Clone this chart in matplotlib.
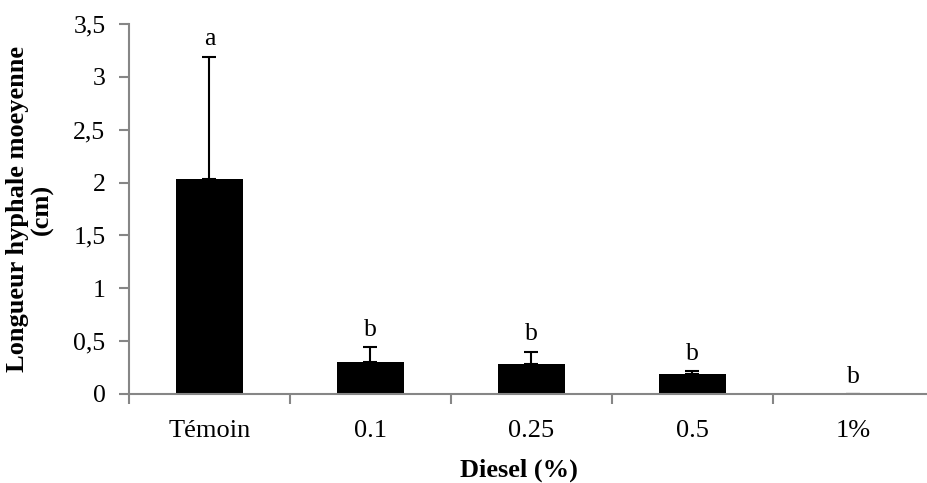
import matplotlib.pyplot as plt
import numpy as np

# donnees
categories = ['Témoin', '0.1', '0.25', '0.5', '1%']
moyennes = [2.03, 0.305, 0.287, 0.19, 0.0]
erreurs = [1.16, 0.14, 0.115, 0.028, 0.0]
lettres = ['a', 'b', 'b', 'b', 'b']

plt.rcParams['font.family'] = ['Liberation Serif', 'DejaVu Serif']
gris = '#868686'

fig = plt.figure(figsize=(9.28, 4.83), dpi=100)
ax = fig.add_axes([129/928, (483-394)/483, (934-129)/928, 370/483])

x = np.arange(len(categories))
ax.bar(x, moyennes, width=0.41, color='black', zorder=2)
ax.errorbar(x, moyennes, yerr=[np.zeros(len(erreurs)), erreurs], fmt='none',
            ecolor='black', elinewidth=1.5, capsize=4.7, capthick=1.5, zorder=3)

for i in range(len(categories)):
    h = moyennes[i] + erreurs[i]
    ax.text(x[i], h + 0.06, lettres[i], ha='center', va='bottom', fontsize=18.5)

ax.set_xlim(-0.5, 4.5)
ax.set_ylim(0, 3.5)
ax.set_yticks(np.arange(0, 3.51, 0.5))
ax.set_yticklabels(['0', '0,5', '1', '1,5', '2', '2,5', '3', '3,5'], fontsize=18.5)
ax.set_xticks(x)
ax.set_xticklabels(categories, fontsize=19)
ax.set_xticks(np.arange(-0.5, 4.6, 1), minor=True)
ax.tick_params(axis='x', which='major', length=0, pad=19)
ax.tick_params(axis='x', which='minor', length=7, color=gris, width=1.5)
ax.tick_params(axis='y', length=7, color=gris, width=1.5, pad=10)

for s in ['top', 'right']:
    ax.spines[s].set_visible(False)
for s in ['left', 'bottom']:
    ax.spines[s].set_color(gris)
    ax.spines[s].set_linewidth(1.5)
    ax.spines[s].set_zorder(4)

fig.text(30/928, 1 - 209/483, 'Longueur hyphale moeyenne\n(cm)', rotation=90,
         ha='center', va='center', fontsize=19, fontweight='bold', linespacing=1.05)
fig.text(519/928, 1 - 470/483, 'Diesel (%)', ha='center', va='center',
         fontsize=19, fontweight='bold')

fig.savefig('out.png', dpi=100)
